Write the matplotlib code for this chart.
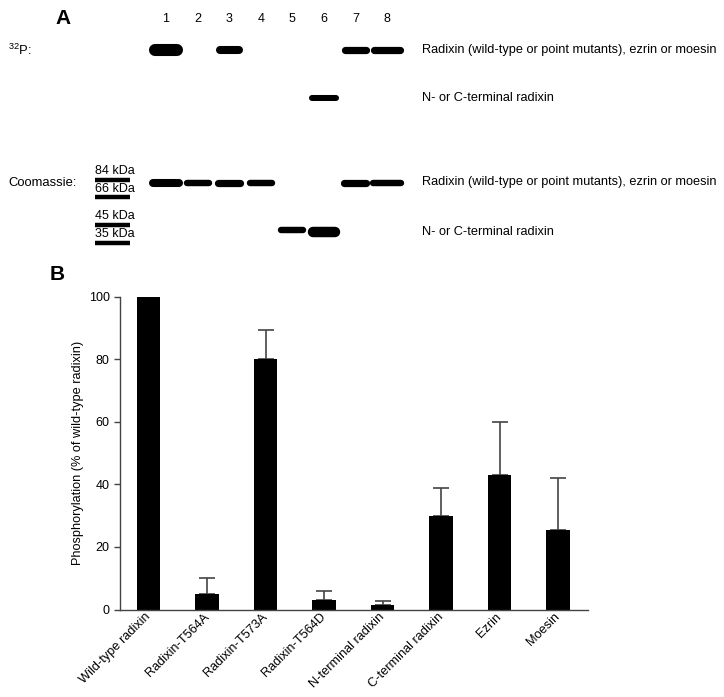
import numpy as np
import matplotlib
matplotlib.use("Agg")
import matplotlib.pyplot as plt

plt.rcParams['font.family'] = ['Liberation Sans', 'DejaVu Sans']
plt.rcParams['mathtext.fontset'] = 'custom'
plt.rcParams['mathtext.rm'] = 'Liberation Sans'

# ─────────────────────────────────────────────
# Data
# ─────────────────────────────────────────────
lanes = [1, 2, 3, 4, 5, 6, 7, 8]

# apparent size of the bands (kDa)
full_kda = 80
term_kda = [42, 41]           # lane 5, lane 6

# band strength per lane (0 = no band)
p32_full = [1.5, 0, 1.0, 0, 0, 0, 0.9, 0.9]
p32_term = [0, 0, 0, 0, 0, 0.75, 0, 0]
coom_full = [1.0, 0.8, 0.9, 0.8, 0, 0, 0.9, 0.8]
coom_term = [0, 0, 0, 0, 0.8, 1.3, 0, 0]

# band length per lane (lane units)
p32_full_len = [0.7, 0, 0.6, 0, 0, 0, 0.65, 0.85]
p32_term_len = [0, 0, 0, 0, 0, 0.75, 0, 0]
coom_full_len = [0.8, 0.7, 0.7, 0.7, 0, 0, 0.7, 0.9]
coom_term_len = [0, 0, 0, 0, 0.7, 0.7, 0, 0]

markers_kda = [84, 66, 45, 35]

constructs = ['Wild-type radixin', 'Radixin-T564A', 'Radixin-T573A', 'Radixin-T564D',
              'N-terminal radixin', 'C-terminal radixin', 'Ezrin', 'Moesin']
phospho = [100, 5, 80, 3, 1.5, 30, 43, 25.5]
phospho_err = [0, 5, 9.5, 3, 1.2, 9, 17, 16.5]

W, H = 724, 697
fig = plt.figure(figsize=(W / 100, H / 100), dpi=100)


def fx(x):
    return x / W


def fy(y):
    return 1 - y / H


def gel_axes(top, bottom, kda_top, kda_bottom):
    ax = fig.add_axes([fx(134.4), fy(bottom), fx(418.6) - fx(134.4), fy(top) - fy(bottom)])
    ax.set_xlim(0, 9)
    ax.set_yscale('log')
    ax.set_ylim(kda_bottom, kda_top)
    ax.axis('off')
    return ax


def draw_bands(ax, strength, length, kda):
    for i, lane in enumerate(lanes):
        if strength[i] <= 0:
            continue
        y = kda[i] if isinstance(kda, list) else kda
        ax.plot([lane - length[i] / 2, lane + length[i] / 2], [y, y], color='black',
                lw=5.8 * strength[i], solid_capstyle='round')


term_pos = [0, 0, 0, 0, term_kda[0], term_kda[1], 0, 0]

# ─────────────────────────────────────────────
# Panel A: 32P autoradiograph
# ─────────────────────────────────────────────
ax_p = gel_axes(25, 125, 113, 28.2)
draw_bands(ax_p, p32_full, p32_full_len, full_kda)
draw_bands(ax_p, p32_term, p32_term_len, term_pos)
for lane in lanes:
    ax_p.text(lane, 1.0, str(lane), transform=ax_p.get_xaxis_transform(),
              ha='center', va='bottom', fontsize=9)

# ─────────────────────────────────────────────
# Panel A: Coomassie
# ─────────────────────────────────────────────
ax_c = gel_axes(160, 255, 110.9, 29.6)
draw_bands(ax_c, coom_full, coom_full_len, full_kda)
draw_bands(ax_c, coom_term, coom_term_len, term_pos)
for kda in markers_kda:
    ax_c.plot([-1.25, -0.14], [kda, kda], color='black', lw=3.2, solid_capstyle='butt', clip_on=False)
    ax_c.annotate(f'{kda} kDa', (-1.25, kda), xytext=(0, 2), textcoords='offset points',
                  ha='left', va='bottom', fontsize=9, annotation_clip=False)

fig.text(fx(55), fy(18), 'A', fontsize=15, fontweight='bold', ha='left', va='center')
fig.text(fx(8), fy(50), r'$^{32}$P:', fontsize=9.4, ha='left', va='center')
fig.text(fx(8), fy(183), 'Coomassie:', fontsize=9.4, ha='left', va='center')
full_lbl = 'Radixin (wild-type or point mutants), ezrin or moesin'
term_lbl = 'N- or C-terminal radixin'
for y, s in [(50, full_lbl), (98, term_lbl), (182, full_lbl), (232, term_lbl)]:
    fig.text(fx(422), fy(y), s, fontsize=9.2, ha='left', va='center')

# ─────────────────────────────────────────────
# Panel B: bar chart
# ─────────────────────────────────────────────
fig.text(fx(50), fy(275), 'B', fontsize=15, fontweight='bold', ha='left', va='center')
ax = fig.add_axes([fx(120), fy(609.5), fx(588) - fx(120), fy(296.7) - fy(609.5)])
x = np.arange(len(constructs))
ax.errorbar(x, phospho, yerr=[np.zeros(len(x)), phospho_err], fmt='none',
            ecolor='#444444', elinewidth=1.2, capsize=6, capthick=1.2, zorder=1)
ax.bar(x, phospho, width=0.4, color='black', zorder=2)
ax.set_xlim(-0.49, 7.51)
ax.set_ylim(0, 100)
ax.set_yticks([0, 20, 40, 60, 80, 100])
ax.set_xticks(x)
ax.set_xticklabels([])
# rotated category labels, ending just under each bar
for xi, name in zip(x, constructs):
    ax.annotate(name, (xi, 0), xycoords=('data', 'axes fraction'), xytext=(-3, -1),
                textcoords='offset points', rotation=45, ha='right', va='top',
                rotation_mode='anchor', fontsize=9.2, annotation_clip=False)
ax.tick_params(axis='x', length=0)
ax.tick_params(axis='y', length=4, width=1, labelsize=9, color='#444444')
ax.set_ylabel('Phosphorylation (% of wild-type radixin)', fontsize=9.2, labelpad=3)
for side in ['top', 'right']:
    ax.spines[side].set_visible(False)
for side in ['left', 'bottom']:
    ax.spines[side].set_color('#444444')
    ax.spines[side].set_linewidth(1)

fig.savefig('out.png', dpi=100)
